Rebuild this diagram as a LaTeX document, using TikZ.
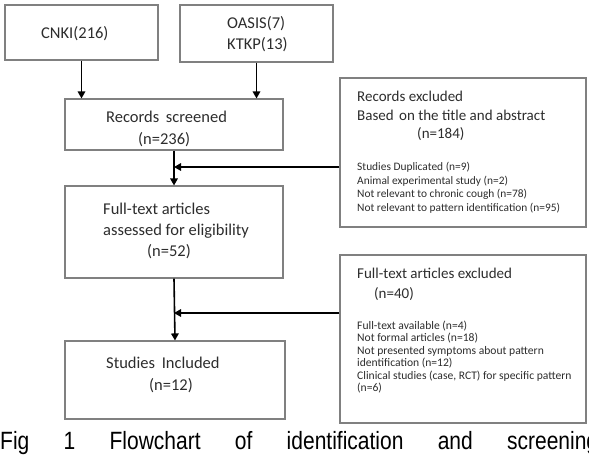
\documentclass[tikz,border=0pt]{standalone}
\usepackage{fontspec}
\setmainfont{Carlito}
\newfontfamily\capfont[FakeStretch=0.84]{Liberation Sans}
\usetikzlibrary{arrows.meta,calc}
\definecolor{boxgray}{RGB}{128,128,128}
\definecolor{txtgray}{RGB}{45,45,45}
\begin{document}
\begin{tikzpicture}[x=1pt,y=-1pt,
  box/.style={draw=boxgray, line width=1.1pt, inner sep=0pt, fill=white},
  arr/.style={line width=1.6pt, -{Triangle[length=7pt,width=7.5pt]}},
  bigtxt/.style={anchor=base west, inner sep=0pt, text=txtgray, font=\fontsize{16.5}{19}\selectfont},
  midtxt/.style={anchor=base west, inner sep=0pt, text=txtgray, font=\fontsize{15}{18}\selectfont},
  smalltxt/.style={anchor=base west, inner sep=0pt, text=txtgray, font=\fontsize{11.4}{13}\selectfont},
  tinytxt/.style={anchor=base west, inner sep=0pt, text=txtgray, font=\fontsize{11.6}{12}\selectfont}]
\fill[white] (0,0) rectangle (589,459);
\useasboundingbox (0,0) rectangle (589,459);
% boxes
\node[box, minimum width=153pt, minimum height=55pt] (cnki) at (81.5,32.5) {};
\node[box, minimum width=153pt, minimum height=57pt] (oasis) at (256.5,33.5) {};
\node[box, minimum width=218pt, minimum height=51pt] (rs) at (174,124.5) {};
\node[box, minimum width=218pt, minimum height=92pt] (ft) at (174,232) {};
\node[box, minimum width=220pt, minimum height=78pt] (si) at (175,380) {};
\node[box, minimum width=246pt, minimum height=149pt] (re) at (463,152.5) {};
\node[box, minimum width=246pt, minimum height=168pt] (fe) at (463,339) {};
% texts main
\node[bigtxt] (t1) at (41,38) {CNKI(216)};
\node[bigtxt] (t2) at (227,28) {OASIS(7)};
\node[bigtxt] (t3) at (227,49) {KTKP(13)};
\node[bigtxt] (t4) at (106,122) {Records\hspace{3pt} screened};
\node[bigtxt] (t5) at (138,144) {(n=236)};
\node[bigtxt] (t6) at (103,214) {Full-text articles};
\node[bigtxt] (t7) at (103,235) {assessed for eligibility};
\node[bigtxt] (t8) at (147,256) {(n=52)};
\node[bigtxt] (t9) at (106,368) {Studies\hspace{3pt} Included};
\node[bigtxt] (t10) at (149,390) {(n=12)};
% records excluded
\node[midtxt] (e1) at (357,101) {Records excluded};
\node[midtxt] (e2) at (357,120) {Based\hspace{2pt} on the title and abstract};
\node[midtxt] (e3) at (417,138) {(n=184)};
\node[smalltxt] (e4) at (357,170) {Studies Duplicated (n=9)};
\node[smalltxt] (e5) at (357,184) {Animal experimental study (n=2)};
\node[smalltxt] (e6) at (357,197) {Not relevant to chronic cough (n=78)};
\node[smalltxt] (e7) at (357,211) {Not relevant to pattern identification (n=95)};
% full-text excluded
\node[midtxt] (f1) at (357,278) {Full-text articles excluded};
\node[midtxt] (f2) at (374,298) {(n=40)};
\node[tinytxt] (f3) at (357,329) {Full-text available (n=4)};
\node[tinytxt] (f4) at (357,341.5) {Not formal articles (n=18)};
\node[tinytxt] (f5) at (357,354) {Not presented symptoms about pattern};
\node[tinytxt] (f6) at (357,366.5) {identification (n=12)};
\node[tinytxt] (f7) at (357,379) {Clinical studies (case, RCT) for specific pattern};
\node[tinytxt] (f8) at (357,391.5) {(n=6)};
% arrows
\draw[arr] (cnki.south) -- (cnki.south |- rs.north);
\draw[arr] (oasis.south) -- (oasis.south |- rs.north);
\draw[arr] (rs.south) -- (ft.north);
\draw[arr] (ft.south) -- (si.north);
\coordinate (h1) at (174,167);
\coordinate (h2) at (174,313);
\draw[arr] (re.west |- h1) -- (h1);
\draw[arr] (fe.west |- h2) -- (h2);
% caption
\node[anchor=base west, inner sep=0pt, text=black] (cap) at (0,449)
  {\capfont\fontsize{25}{26}\selectfont\makebox[598pt][s]{Fig 1 Flowchart of identification and screening}};
\end{tikzpicture}
\end{document}
